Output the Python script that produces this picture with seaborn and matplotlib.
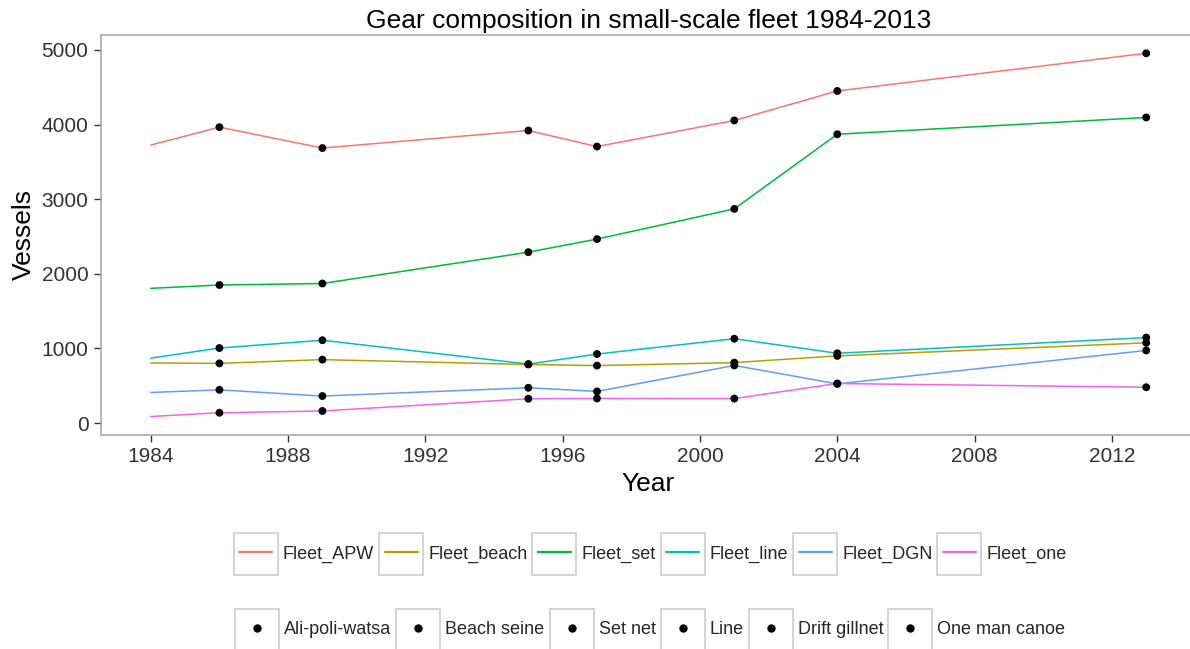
import pandas as pd
import matplotlib
matplotlib.use("Agg")
import matplotlib.pyplot as plt
from matplotlib.lines import Line2D
from matplotlib.patches import Rectangle
import seaborn as sns

# --- data ---
years = [1984, 1986, 1989, 1995, 1997, 2001, 2004, 2013]
fleet_apw = [3725, 3965, 3685, 3920, 3705, 4055, 4450, 4955]
fleet_beach = [805, 800, 850, 785, 770, 810, 900, 1075]
fleet_set = [1805, 1850, 1870, 2290, 2465, 2870, 3870, 4095]
fleet_line = [870, 1005, 1110, 790, 925, 1130, 935, 1145]
fleet_dgn = [410, 445, 362, 473, 424, 772, 525, 973]
fleet_one = [88, 138, 162, 326, 330, 328, 530, 480]

fleet_names = ["Fleet_APW", "Fleet_beach", "Fleet_set", "Fleet_line", "Fleet_DGN", "Fleet_one"]
gear_names = ["Ali-poli-watsa", "Beach seine", "Set net", "Line", "Drift gillnet", "One man canoe"]
point_years = years[1:]  # no observation marker drawn for 1984

colors = ["#F8766D", "#B79F00", "#00BA38", "#00BFC4", "#619CFF", "#F564E3"]

series = [fleet_apw, fleet_beach, fleet_set, fleet_line, fleet_dgn, fleet_one]
rows = []
for fleet, gear, vals in zip(fleet_names, gear_names, series):
    for yr, v in zip(years, vals):
        rows.append({"Year": yr, "Vessels": v, "Fleet": fleet, "Gear": gear})
df = pd.DataFrame(rows)
df_pts = df[df["Year"].isin(point_years)]

sns.set_style("white")
plt.rcParams["font.family"] = ["Liberation Sans", "DejaVu Sans"]

fig = plt.figure(figsize=(11.9, 6.49), dpi=100)
ax = fig.add_axes([101 / 1190, 1 - 435 / 649, 1095 / 1190, 400 / 649])

sns.lineplot(data=df, x="Year", y="Vessels", hue="Fleet", hue_order=fleet_names,
             palette=colors, linewidth=1.1, legend=False, ax=ax)
sns.scatterplot(data=df_pts, x="Year", y="Vessels", hue="Gear", hue_order=gear_names,
                palette=["black"] * 6, s=32, edgecolor="none", legend=False, ax=ax, zorder=3)

ax.set_xlim(1982.55, 2014.45)
ax.set_ylim(-160, 5200)
ax.set_xticks([1984, 1988, 1992, 1996, 2000, 2004, 2008, 2012])
ax.set_yticks([0, 1000, 2000, 3000, 4000, 5000])
ax.tick_params(axis="both", bottom=True, left=True, direction="out", length=5, width=1,
               color="#333333", labelsize=15, labelcolor="#333333", pad=4)
for sp in ax.spines.values():
    sp.set_color("#AAAAAA")
    sp.set_linewidth(1.2)

ax.set_xlabel("Year", fontsize=19, labelpad=4, color="black")
ax.set_ylabel("Vessels", fontsize=19, labelpad=4, color="black")
ax.set_title("Gear composition in small-scale fleet 1984-2013", fontsize=19, pad=5, color="black")

# --- legends, ggplot-like with boxed keys ---
fs = 13
hl, htp, cs = 1.83, 0.58, 0.58
line_handles = [Line2D([], [], color=c, lw=1.6) for c in colors]
pt_handles = [Line2D([], [], ls="none", marker="o", color="black", markersize=5) for _ in gear_names]

leg1 = fig.legend(line_handles, fleet_names, ncol=6, loc="center",
                  bbox_to_anchor=(653 / 1190, 1 - 554 / 649), frameon=False, fontsize=fs,
                  handlelength=hl, handletextpad=htp, columnspacing=cs)
leg2 = fig.legend(pt_handles, gear_names, ncol=6, loc="center",
                  bbox_to_anchor=(653 / 1190, 1 - 630 / 649), frameon=False, fontsize=fs,
                  handlelength=hl, handletextpad=htp, columnspacing=cs)

fig.canvas.draw()
renderer = fig.canvas.get_renderer()
fs_px = fs * fig.dpi / 72
bw, bh = 44, 42
inv = fig.transFigure.inverted()
for leg in (leg1, leg2):
    for t in leg.get_texts():
        bb = t.get_window_extent(renderer)
        cx = bb.x0 - (htp + hl / 2) * fs_px
        cy = (bb.y0 + bb.y1) / 2
        (x0, y0) = inv.transform((cx - bw / 2, cy - bh / 2))
        (x1, y1) = inv.transform((cx + bw / 2, cy + bh / 2))
        fig.patches.append(Rectangle((x0, y0), x1 - x0, y1 - y0, transform=fig.transFigure,
                                     fill=False, edgecolor="#CCCCCC", linewidth=1.2,
                                     figure=fig))

fig.savefig("out.png", dpi=100)
